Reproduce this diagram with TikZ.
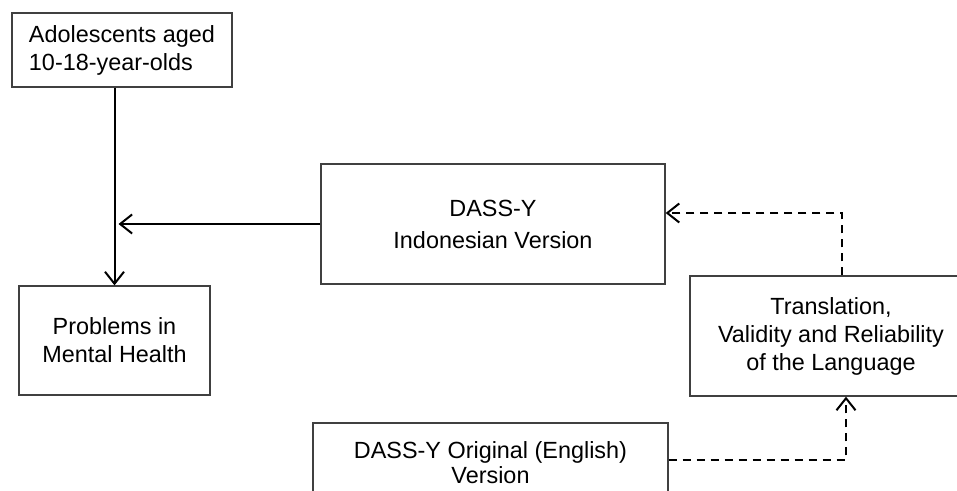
\documentclass[tikz,border=0pt]{standalone}
\usepackage{fontspec}
\setmainfont{Liberation Sans}
\usetikzlibrary{arrows.meta, positioning}

\begin{document}
\begin{tikzpicture}[x=0.5pt, y=-0.5pt,
        box/.style={rectangle, draw=black!75, line width=0.65pt, align=center, inner sep=0pt,
            font=\fontsize{11.7}{14}\selectfont},
        arr/.style={line width=1pt, -{Straight Barb[length=6pt, width=9.5pt, line width=1pt]}},
        dasharr/.style={arr, dash pattern=on 4pt off 3pt}]
        \useasboundingbox (0, 0) rectangle (957, 491);

        \node[box, minimum width=110pt, minimum height=37pt, align=left] (adol) at (122, 50) {Adolescents aged\\10-18-year-olds};
        \node[box, minimum width=95.5pt, minimum height=54.5pt] (probl) at (114.5, 340.5) {Problems in\\Mental Health};
        \node[box, minimum width=172pt, minimum height=60pt, font=\fontsize{11.7}{16}\selectfont] (indo) at (493, 224) {DASS-Y\\Indonesian Version};
        \node[box, minimum width=141pt, minimum height=60pt] (transl) at (831, 336) {Translation,\\Validity and Reliability\\of the Language};
        \node[box, minimum width=177.5pt, minimum height=39.5pt, font=\fontsize{11.7}{12.5}\selectfont] (engl) at (490.5, 462.5) {DASS-Y Original (English)\\Version};

        \coordinate (bend1) at (842, 213);
        \coordinate (bend2) at (846, 460);

        \draw[arr] (adol.south -| probl.north) to (probl.north);
        \draw[arr, shorten >=2pt] (indo.west) to (indo.west -| probl.north);
        \draw[dasharr] (transl.north -| bend1) -- (bend1) -- (bend1 -| indo.east);
        \draw[dasharr] (bend2 -| engl.east) -- (bend2) -- (bend2 |- transl.south);
    \end{tikzpicture}
\end{document}
